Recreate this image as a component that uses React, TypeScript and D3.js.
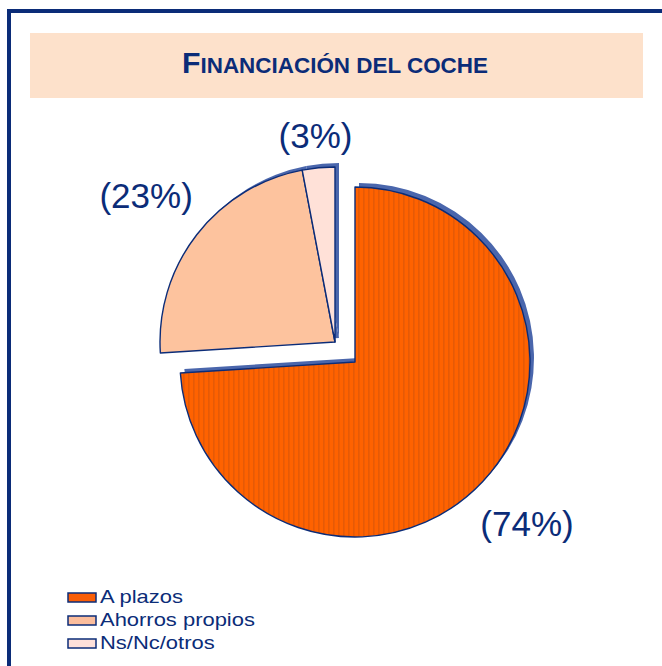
import * as d3 from 'd3';

// chart data
const categories = ['A plazos', 'Ahorros propios', 'Ns/Nc/otros'];
const values = [74, 23, 3];
const labels = ['(74%)', '(23%)', '(3%)'];
const exploded = [false, true, true];

const title = 'Financiación del coche';

const W = 662;
const H = 666;
const NAVY = '#0b2c78';
const SHADOW = '#4a66ac';
const fills = ['url(#orangeStripes)', '#fdc39e', '#ffe1d8'];
const swatchFills = ['#f95e08', '#fbbd9c', '#fde0da'];

const cx = 355;
const cy = 362;
const R = 175;
const explodeOffset = [-20, -20];
const labelRadius = [236, 239, 207];

export default function App() {
  const pie = d3
    .pie<number>()
    .sort(null)
    .value((d) => d)
    .startAngle(0)
    .endAngle(2 * Math.PI);
  const arcs = pie(values);
  const arc = d3.arc<d3.PieArcDatum<number>>().innerRadius(0).outerRadius(R);

  const offsetOf = (i: number) => (exploded[i] ? explodeOffset : [0, 0]);

  const labelPos = (i: number) => {
    const a = arcs[i];
    const mid = (a.startAngle + a.endAngle) / 2;
    const [ox, oy] = offsetOf(i);
    return [cx + ox + Math.sin(mid) * labelRadius[i], cy + oy - Math.cos(mid) * labelRadius[i]];
  };

  const legendY = d3.scaleBand<string>().domain(categories).range([590, 659]);

  return (
    <svg
      width={W}
      height={H}
      style={{ position: 'absolute', left: 0, top: 0, background: '#fff' }}
    >
      <defs>
        <pattern id="orangeStripes" width="5" height="6" patternUnits="userSpaceOnUse">
          <rect width="5" height="6" fill="#ff6200" />
          <rect x="3" width="1.6" height="6" fill="#e65a06" />
        </pattern>
      </defs>

      {/* frame */}
      <path d={`M9,${H} V11 H${W}`} fill="none" stroke={NAVY} strokeWidth={4} />

      {/* title box */}
      <rect x={30} y={33} width={613} height={65} fill="#fde1cb" />
      <text
        x={335}
        y={73}
        textAnchor="middle"
        fill={NAVY}
        fontFamily="'Liberation Sans Narrow', 'Liberation Sans', Arial, sans-serif"
        fontWeight="bold"
        textLength={306}
        lengthAdjust="spacingAndGlyphs"
      >
        <tspan fontSize={29}>{title.charAt(0).toUpperCase()}</tspan>
        <tspan fontSize={21.5}>{title.slice(1).toUpperCase()}</tspan>
      </text>

      {/* shadows */}
      {arcs.map((a, i) => {
        const [ox, oy] = offsetOf(i);
        return (
          <path
            key={`s${i}`}
            d={arc(a) || ''}
            transform={`translate(${cx + ox + 4},${cy + oy - 4})`}
            fill={SHADOW}
          />
        );
      })}

      {/* slices */}
      {arcs.map((a, i) => {
        const [ox, oy] = offsetOf(i);
        return (
          <path
            key={`p${i}`}
            d={arc(a) || ''}
            transform={`translate(${cx + ox},${cy + oy})`}
            fill={fills[i]}
            stroke={NAVY}
            strokeWidth={1.4}
            strokeLinejoin="round"
          />
        );
      })}

      {/* slice labels */}
      {arcs.map((_, i) => {
        const [x, y] = labelPos(i);
        return (
          <text
            key={`l${i}`}
            x={x}
            y={y}
            textAnchor="middle"
            dominantBaseline="central"
            fontSize={35}
            fill={NAVY}
            fontFamily="'Liberation Sans', Arial, sans-serif"
          >
            {labels[i]}
          </text>
        );
      })}

      {/* legend */}
      {categories.map((c, i) => {
        const y = legendY(c) || 0;
        return (
          <g key={c} transform={`translate(68,${y})`}>
            <rect x={0} y={3} width={28} height={9} fill={swatchFills[i]} stroke={NAVY} strokeWidth={1.5} />
            <text
              x={0}
              y={13}
              transform="translate(32,0) scale(1.22,1)"
              fontSize={18}
              fill={NAVY}
              fontFamily="'Liberation Sans', Arial, sans-serif"
            >
              {c}
            </text>
          </g>
        );
      })}
    </svg>
  );
}
